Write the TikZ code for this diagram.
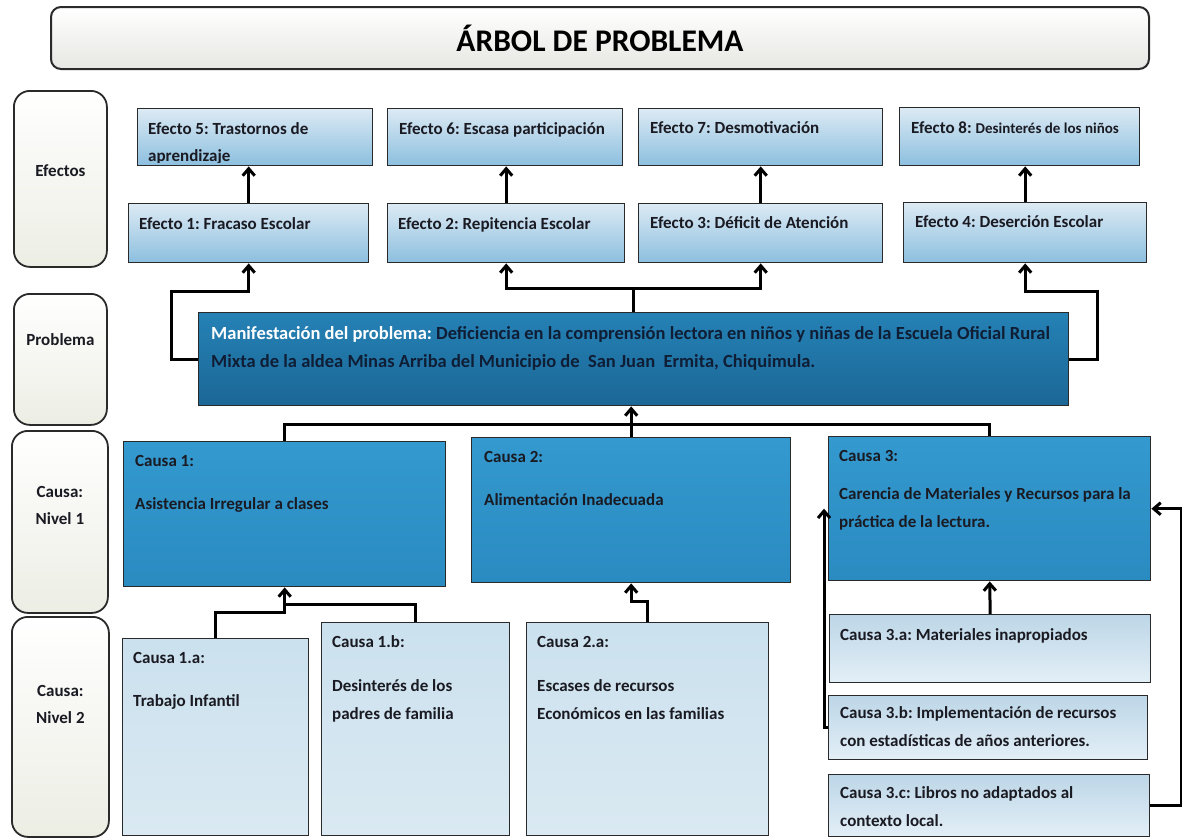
\documentclass[tikz,border=0pt]{standalone}
\usepackage{fontspec}
\setmainfont{Carlito}
\usetikzlibrary{arrows.meta}
\usetikzlibrary{shadings}
\frenchspacing

\definecolor{ink}{HTML}{1A1A22}
\definecolor{prInk}{HTML}{0F1E35}
\definecolor{frame}{HTML}{2A2A2A}
\definecolor{efTop}{HTML}{DCEAF4}
\definecolor{efBot}{HTML}{8CBFDF}
\definecolor{prTop}{HTML}{2581B5}
\definecolor{prBot}{HTML}{1B6796}
\definecolor{caTop}{HTML}{3399CE}
\definecolor{caBot}{HTML}{2A8BC1}
\definecolor{subTop}{HTML}{CBE1EE}
\definecolor{subBot}{HTML}{DAE9F2}
\definecolor{subTopb}{HTML}{BDD6E7}
\definecolor{subBotb}{HTML}{E3EFF7}
\definecolor{sideBot}{HTML}{ECEEE4}

\begin{document}
\begin{tikzpicture}[x=1pt,y=-1pt,
  >={Straight Barb[length=7pt,width=12pt]},
  tbox/.style={rectangle,rounded corners=10pt,draw=frame,line width=2pt,top color=white,bottom color=sideBot!80!gray!60,anchor=north west},
  side/.style={rectangle,rounded corners=16pt,draw=frame,line width=1.8pt,top color=white,bottom color=sideBot,anchor=north west},
  efecto/.style={rectangle,draw=frame,line width=1.4pt,top color=efTop,bottom color=efBot,anchor=north west},
  problema/.style={rectangle,draw=frame,line width=1.4pt,top color=prTop,bottom color=prBot,anchor=north west},
  causa/.style={rectangle,draw=frame,line width=1.4pt,top color=caTop,bottom color=caBot,anchor=north west},
  subcausa/.style={rectangle,draw=frame,line width=1.4pt,top color=subTop,bottom color=subBot,anchor=north west},
  subcausab/.style={rectangle,draw=frame,line width=1.4pt,top color=subTopb,bottom color=subBotb,anchor=north west},
  txt/.style={anchor=north west,inner sep=0pt,align=left,text=ink,font=\bfseries\fontsize{17}{28}\selectfont},
  efftxt/.style={txt,font=\bfseries\fontsize{17}{27}\selectfont},
  sidetxt/.style={inner sep=0pt,align=center,text=ink,font=\bfseries\fontsize{17}{27}\selectfont},
  link/.style={line width=3pt}]
\useasboundingbox (0,0) rectangle (1182,839);

\node at (50,6) (titulo) [tbox,minimum width=1098pt,minimum height=62pt] {};
\node at (titulo.center) (titulot) [text=black,font=\bfseries\fontsize{31.5}{36}\selectfont] {ÁRBOL DE PROBLEMA};

\node at (13,90) (sef) [side,minimum width=93pt,minimum height=176pt] {};
\node at (13,293) (spr) [side,minimum width=93pt,minimum height=131pt] {};
\node at (11,430) (sn1) [side,minimum width=96pt,minimum height=182pt] {};
\node at (11,616) (sn2) [side,minimum width=97pt,minimum height=220pt] {};
\node at ([yshift=8pt]sef.center) (seft) [sidetxt] {Efectos};
\node at ([yshift=20pt]spr.center) (sprt) [sidetxt] {Problema};
\node at ([yshift=16pt]sn1.center) (sn1t) [sidetxt] {Causa:\\Nivel 1};
\node at ([yshift=22pt]sn2.center) (sn2t) [sidetxt] {Causa:\\Nivel 2};

\node at (137,108) (e5) [efecto,minimum width=235pt,minimum height=57pt] {};
\node at (387,108) (e6) [efecto,minimum width=235pt,minimum height=57pt] {};
\node at (638,108) (e7) [efecto,minimum width=244pt,minimum height=57pt] {};
\node at (899,107) (e8) [efecto,minimum width=240pt,minimum height=58pt] {};
\node at (128,203) (e1) [efecto,minimum width=240pt,minimum height=59pt] {};
\node at (387,203) (e2) [efecto,minimum width=237pt,minimum height=59pt] {};
\node at (638,203) (e3) [efecto,minimum width=244pt,minimum height=59pt] {};
\node at (903,202) (e4) [efecto,minimum width=243pt,minimum height=60pt] {};
\begin{scope}
\clip (e5.north west) rectangle ([yshift=4pt]e5.south east);
\node at ([xshift=11pt,yshift=-7pt]e5.north west) (e5t) [efftxt] {\strut Efecto 5: Trastornos de\\aprendizaje};
\end{scope}
\node at ([xshift=12pt,yshift=-7pt]e6.north west) (e6t) [efftxt] {\strut Efecto 6: Escasa participación};
\node at ([xshift=12pt,yshift=-6pt]e7.north west) (e7t) [efftxt] {\strut Efecto 7: Desmotivación};
\node at ([xshift=12pt,yshift=-7pt]e8.north west) (e8t) [efftxt] {\strut Efecto 8: {\fontsize{15}{27}\selectfont Desinterés de los niños}};
\node at ([xshift=11pt,yshift=-7pt]e1.north west) (e1t) [efftxt] {\strut Efecto 1: Fracaso Escolar};
\node at ([xshift=11pt,yshift=-7pt]e2.north west) (e2t) [efftxt] {\strut Efecto 2: Repitencia Escolar};
\node at ([xshift=12pt,yshift=-6pt]e3.north west) (e3t) [efftxt] {\strut Efecto 3: Déficit de Atención};
\node at ([xshift=12pt,yshift=-6pt]e4.north west) (e4t) [efftxt] {\strut Efecto 4: Deserción Escolar};

\node at (198,312) (prob) [problema,minimum width=870pt,minimum height=93pt] {};
\node at ([xshift=13pt,yshift=-8pt]prob.north west) (probt) [txt,text=prInk,font=\bfseries\fontsize{18.5}{28}\selectfont] {\strut\textcolor{white}{Manifestación del problema:} Deficiencia en la comprensión lectora en niños y niñas de la Escuela Oficial Rural\\Mixta de la aldea Minas Arriba del Municipio de~ San Juan~ Ermita, Chiquimula.};

\node at (123,441) (c1) [causa,minimum width=322pt,minimum height=145pt] {};
\node at (471,437) (c2) [causa,minimum width=319pt,minimum height=145pt] {};
\node at (828,436) (c3) [causa,minimum width=322pt,minimum height=144pt] {};
\node at ([xshift=12pt,yshift=-6pt]c1.north west) (c1t) [txt] {\strut Causa 1:\\[15pt]Asistencia Irregular a clases};
\node at ([xshift=13pt,yshift=-6pt]c2.north west) (c2t) [txt] {\strut Causa 2:\\[15pt]Alimentación Inadecuada};
\node at ([xshift=11pt,yshift=-6pt]c3.north west) (c3t) [txt] {\strut Causa 3:\\[10pt]Carencia de Materiales y Recursos para la\\práctica de la lectura.};

\node at (122,638) (c1a) [subcausa,minimum width=186pt,minimum height=197pt] {};
\node at (321,622) (c1b) [subcausa,minimum width=188pt,minimum height=213pt] {};
\node at (526,622) (c2a) [subcausa,minimum width=242pt,minimum height=213pt] {};
\node at (829,614) (c3a) [subcausab,minimum width=321pt,minimum height=68pt] {};
\node at (828,695) (c3b) [subcausab,minimum width=319pt,minimum height=64pt] {};
\node at (828,774) (c3c) [subcausab,minimum width=321pt,minimum height=62pt] {};
\node at ([xshift=11pt,yshift=-6pt]c1a.north west) (c1at) [txt] {\strut Causa 1.a:\\[15pt]Trabajo Infantil};
\node at ([xshift=11pt,yshift=-6pt]c1b.north west) (c1bt) [txt] {\strut Causa 1.b:\\[16pt]Desinterés de los\\padres de familia};
\node at ([xshift=11pt,yshift=-6pt]c2a.north west) (c2at) [txt] {\strut Causa 2.a:\\[16pt]Escases de recursos\\Económicos en las familias};
\node at ([xshift=11pt,yshift=-7pt]c3a.north west) (c3at) [txt] {\strut Causa 3.a: Materiales inapropiados};
\node at ([xshift=12pt,yshift=-4pt]c3b.north west) (c3bt) [txt] {\strut Causa 3.b: Implementación de recursos\\con estadísticas de años anteriores.};
\node at ([xshift=12pt,yshift=-5pt]c3c.north west) (c3ct) [txt] {\strut Causa 3.c: Libros no adaptados al\\contexto local.};

\draw [->,link] (e1.north) -- (e1.north |- e5.south);
\draw [->,link] (e2.north) -- (e2.north |- e6.south);
\draw [->,link] (e3.north) -- (e3.north |- e7.south);
\draw [->,link] (e4.north) -- (e4.north |- e8.south);

\draw [->,link] (prob.west) -- ++(-27,0) |- ([yshift=-28pt]e1.south) -- (e1.south);
\draw [->,link] (prob.north) -- ++(0,-24) -| (e2.south);
\draw [->,link] (prob.north) -- ++(0,-24) -| (e3.south);
\draw [->,link] (prob.east) -- ++(28,0) |- ([yshift=-28pt]e4.south) -- (e4.south);

\draw [link] (c1.north) |- ([yshift=-18pt]prob.south) -| (c3.north);
\draw [->,link] (c2.north) -- (c2.north |- prob.south);

\draw [->,link] (c1a.north) |- ([yshift=-25pt]c1.south) -- (c1.south);
\draw [link] (c1b.north) |- ([yshift=-17pt]c1.south);
\draw [->,link] (c2a.north) |- ([yshift=-18pt]c2.south) -- (c2.south);
\draw [->,link] (c3a.north) -- (c3.south);
\draw [->,link] (c3b.west) -| ([xshift=-4pt]c3.west);
\draw [->,link] (c3c.east) -- ++(31,0) |- (c3.east);
\end{tikzpicture}
\end{document}
